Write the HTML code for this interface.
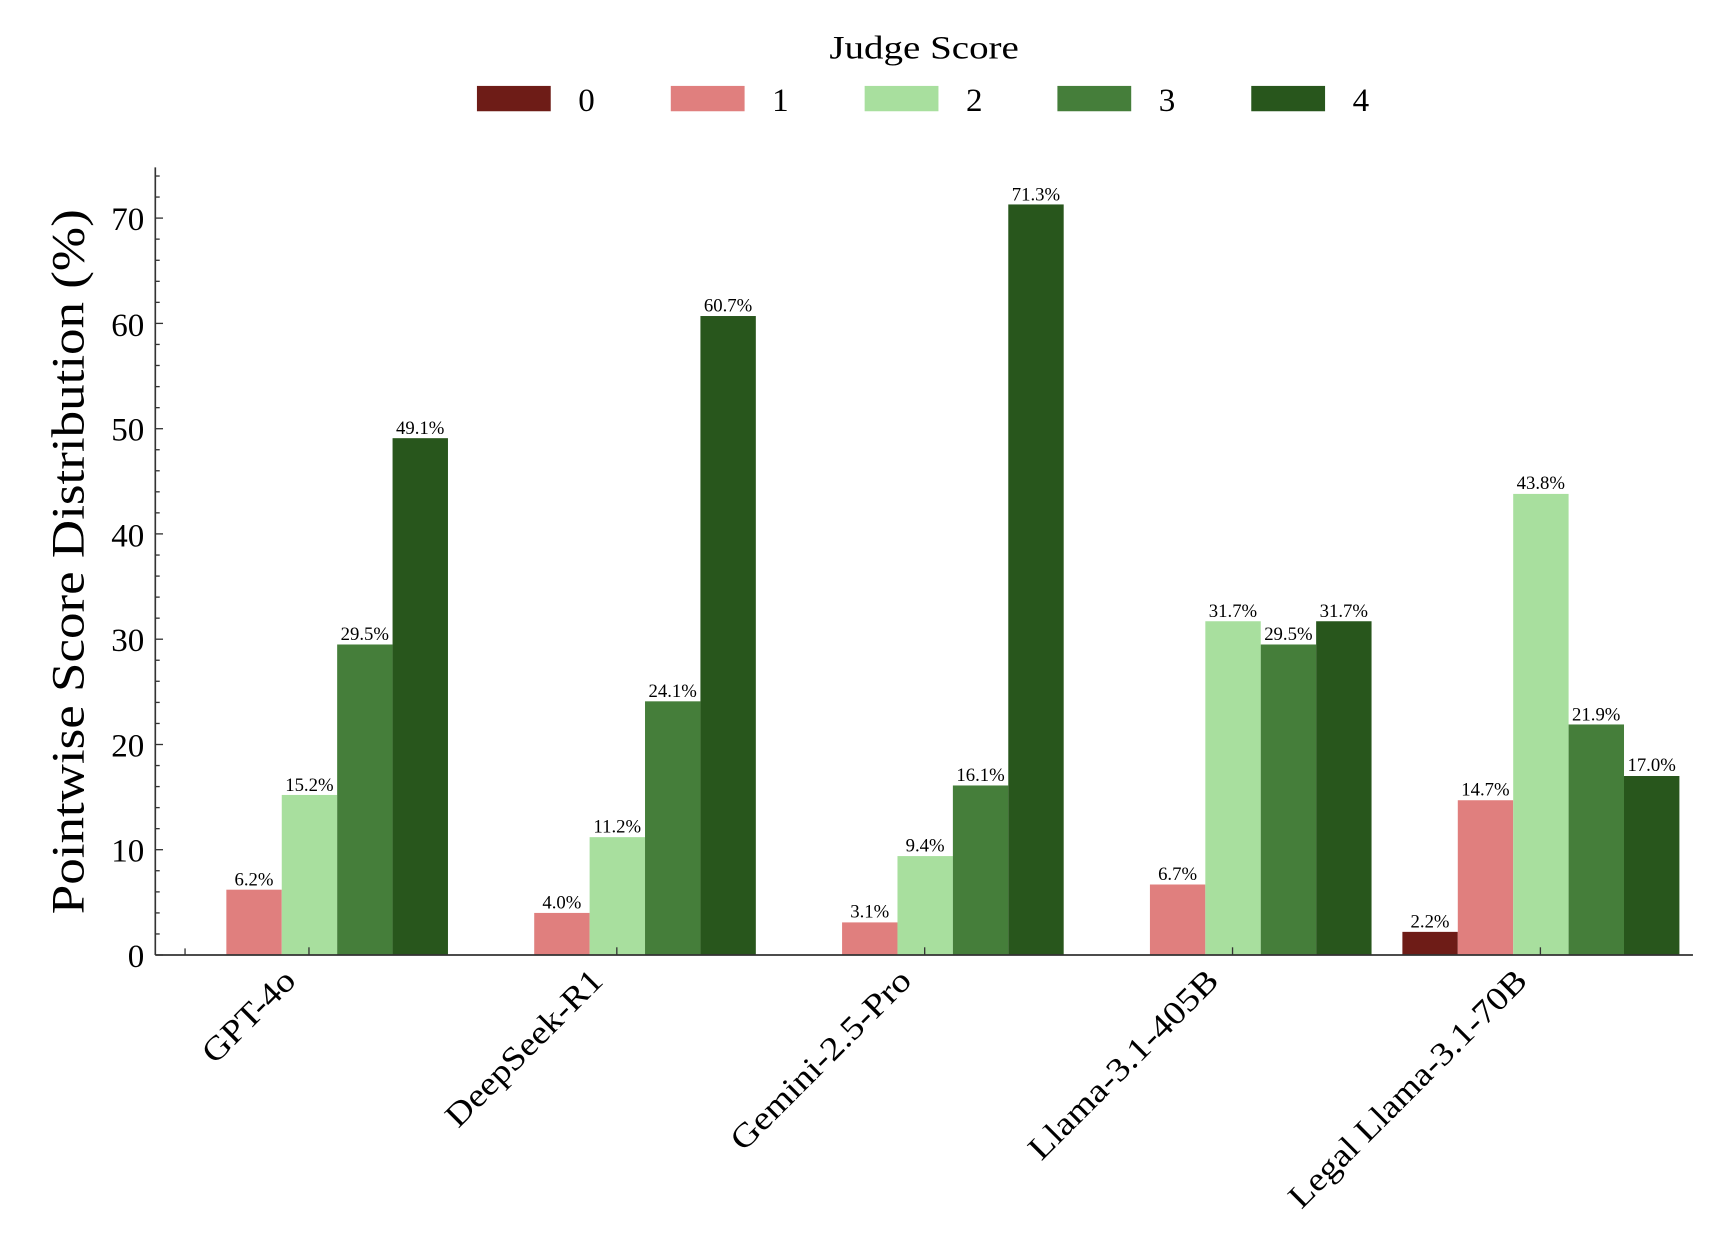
<!DOCTYPE html>
<html><head><meta charset="utf-8"><style>
html,body{margin:0;padding:0;background:#fff;}
svg{display:block;}
text{font-family:"Liberation Serif",serif;fill:#000;}
</style></head><body>
<svg width="1726" height="1248" viewBox="0 0 1567 1133" preserveAspectRatio="none" xmlns="http://www.w3.org/2000/svg">
<text x="839" y="53" font-size="30" text-anchor="middle" textLength="172" lengthAdjust="spacingAndGlyphs">Judge Score</text>
<rect x="433" y="78" width="67" height="23" fill="#6e1c17"/><text x="525" y="101" font-size="30">0</text>
<rect x="609" y="78" width="67" height="23" fill="#e07f7e"/><text x="701" y="101" font-size="30">1</text>
<rect x="785" y="78" width="67" height="23" fill="#a8df9e"/><text x="877" y="101" font-size="30">2</text>
<rect x="960" y="78" width="67" height="23" fill="#457e3a"/><text x="1052" y="101" font-size="30">3</text>
<rect x="1136" y="78" width="67" height="23" fill="#28561c"/><text x="1228" y="101" font-size="30">4</text>

<g>
<rect x="205.5" y="807.7" width="50.3" height="59.3" fill="#e07f7e"/>
<rect x="255.8" y="721.7" width="50.3" height="145.3" fill="#a8df9e"/>
<rect x="306.1" y="585.1" width="50.3" height="281.9" fill="#457e3a"/>
<rect x="356.4" y="397.8" width="50.3" height="469.2" fill="#28561c"/>
<rect x="485.0" y="828.8" width="50.3" height="38.2" fill="#e07f7e"/>
<rect x="535.3" y="760.0" width="50.3" height="107.0" fill="#a8df9e"/>
<rect x="585.6" y="636.7" width="50.3" height="230.3" fill="#457e3a"/>
<rect x="635.9" y="286.9" width="50.3" height="580.1" fill="#28561c"/>
<rect x="764.5" y="837.4" width="50.3" height="29.6" fill="#e07f7e"/>
<rect x="814.8" y="777.2" width="50.3" height="89.8" fill="#a8df9e"/>
<rect x="865.1" y="713.1" width="50.3" height="153.9" fill="#457e3a"/>
<rect x="915.4" y="185.6" width="50.3" height="681.4" fill="#28561c"/>
<rect x="1044.0" y="803.0" width="50.3" height="64.0" fill="#e07f7e"/>
<rect x="1094.3" y="564.0" width="50.3" height="303.0" fill="#a8df9e"/>
<rect x="1144.6" y="585.1" width="50.3" height="281.9" fill="#457e3a"/>
<rect x="1194.9" y="564.0" width="50.3" height="303.0" fill="#28561c"/>
<rect x="1273.2" y="846.0" width="50.3" height="21.0" fill="#6e1c17"/>
<rect x="1323.5" y="726.5" width="50.3" height="140.5" fill="#e07f7e"/>
<rect x="1373.8" y="448.4" width="50.3" height="418.6" fill="#a8df9e"/>
<rect x="1424.1" y="657.7" width="50.3" height="209.3" fill="#457e3a"/>
<rect x="1474.4" y="704.5" width="50.3" height="162.5" fill="#28561c"/>
</g>
<g font-size="17" text-anchor="middle">
<text x="230.6" y="804">6.2%</text>
<text x="280.9" y="718">15.2%</text>
<text x="331.2" y="581">29.5%</text>
<text x="381.5" y="394">49.1%</text>
<text x="510.1" y="825">4.0%</text>
<text x="560.4" y="756">11.2%</text>
<text x="610.7" y="633">24.1%</text>
<text x="661.0" y="283">60.7%</text>
<text x="789.6" y="833">3.1%</text>
<text x="839.9" y="773">9.4%</text>
<text x="890.2" y="709">16.1%</text>
<text x="940.5" y="182">71.3%</text>
<text x="1069.1" y="799">6.7%</text>
<text x="1119.4" y="560">31.7%</text>
<text x="1169.7" y="581">29.5%</text>
<text x="1220.0" y="560">31.7%</text>
<text x="1298.3" y="842">2.2%</text>
<text x="1348.6" y="722">14.7%</text>
<text x="1398.9" y="444">43.8%</text>
<text x="1449.2" y="654">21.9%</text>
<text x="1499.5" y="700">17.0%</text>
</g>

<line x1="141" y1="152" x2="141" y2="867" stroke="#333" stroke-width="1.5"/>
<line x1="141" y1="867" x2="1537" y2="867" stroke="#333" stroke-width="1.5"/>
<g stroke="#333" stroke-width="1.2">
<line x1="141" x2="148" y1="867" y2="867"/><line x1="141" x2="148" y1="771.4" y2="771.4"/>
<line x1="141" x2="148" y1="675.9" y2="675.9"/><line x1="141" x2="148" y1="580.3" y2="580.3"/>
<line x1="141" x2="148" y1="484.7" y2="484.7"/><line x1="141" x2="148" y1="389.2" y2="389.2"/>
<line x1="141" x2="148" y1="293.6" y2="293.6"/><line x1="141" x2="148" y1="198" y2="198"/>
<line x1="141" x2="145" y1="847.9" y2="847.9"/><line x1="141" x2="145" y1="828.8" y2="828.8"/><line x1="141" x2="145" y1="809.7" y2="809.7"/><line x1="141" x2="145" y1="790.5" y2="790.5"/>
<line x1="141" x2="145" y1="752.3" y2="752.3"/><line x1="141" x2="145" y1="733.2" y2="733.2"/><line x1="141" x2="145" y1="714.1" y2="714.1"/><line x1="141" x2="145" y1="695" y2="695"/>
<line x1="141" x2="145" y1="656.8" y2="656.8"/><line x1="141" x2="145" y1="637.7" y2="637.7"/><line x1="141" x2="145" y1="618.5" y2="618.5"/><line x1="141" x2="145" y1="599.4" y2="599.4"/>
<line x1="141" x2="145" y1="561.2" y2="561.2"/><line x1="141" x2="145" y1="542.1" y2="542.1"/><line x1="141" x2="145" y1="523" y2="523"/><line x1="141" x2="145" y1="503.9" y2="503.9"/>
<line x1="141" x2="145" y1="465.6" y2="465.6"/><line x1="141" x2="145" y1="446.5" y2="446.5"/><line x1="141" x2="145" y1="427.4" y2="427.4"/><line x1="141" x2="145" y1="408.3" y2="408.3"/>
<line x1="141" x2="145" y1="370.1" y2="370.1"/><line x1="141" x2="145" y1="351" y2="351"/><line x1="141" x2="145" y1="331.8" y2="331.8"/><line x1="141" x2="145" y1="312.7" y2="312.7"/>
<line x1="141" x2="145" y1="274.5" y2="274.5"/><line x1="141" x2="145" y1="255.4" y2="255.4"/><line x1="141" x2="145" y1="236.3" y2="236.3"/><line x1="141" x2="145" y1="217.1" y2="217.1"/>
<line x1="141" x2="145" y1="178.9" y2="178.9"/><line x1="141" x2="145" y1="159.8" y2="159.8"/>
<line x1="168" x2="168" y1="867" y2="861"/><line x1="280.5" x2="280.5" y1="867" y2="860"/><line x1="560" x2="560" y1="867" y2="860"/><line x1="839.5" x2="839.5" y1="867" y2="860"/><line x1="1119" x2="1119" y1="867" y2="860"/><line x1="1398.5" x2="1398.5" y1="867" y2="860"/>
</g>
<g font-size="30" text-anchor="end">
<text x="131" y="878">0</text><text x="131" y="782">10</text><text x="131" y="687">20</text><text x="131" y="591">30</text>
<text x="131" y="496">40</text><text x="131" y="400">50</text><text x="131" y="305">60</text><text x="131" y="209">70</text>
</g>
<text transform="translate(76,510) rotate(-90)" font-size="42" text-anchor="middle" textLength="640" lengthAdjust="spacingAndGlyphs">Pointwise Score Distribution (%)</text>

<g font-size="30" text-anchor="end">
<text transform="translate(270,892) rotate(-45)" textLength="106" lengthAdjust="spacingAndGlyphs">GPT-4o</text>
<text transform="translate(549,892) rotate(-45)" textLength="188" lengthAdjust="spacingAndGlyphs">DeepSeek-R1</text>
<text transform="translate(829,892) rotate(-45)" textLength="218" lengthAdjust="spacingAndGlyphs">Gemini-2.5-Pro</text>
<text transform="translate(1108,892) rotate(-45)" textLength="230" lengthAdjust="spacingAndGlyphs">Llama-3.1-405B</text>
<text transform="translate(1388,892) rotate(-45)" textLength="292" lengthAdjust="spacingAndGlyphs">Legal Llama-3.1-70B</text>
</g>
</svg>
</body></html>
